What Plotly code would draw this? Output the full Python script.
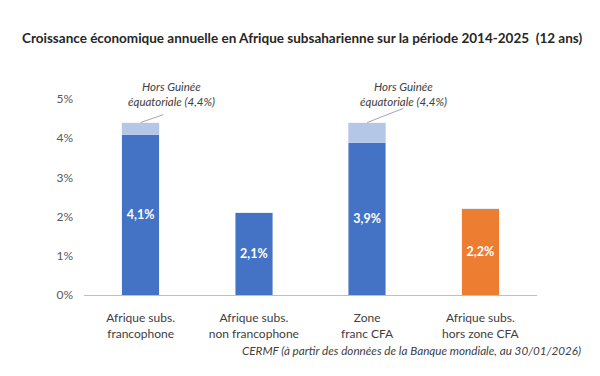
import plotly.graph_objects as go

categories = ["Afrique subs.<br>francophone", "Afrique subs.<br>non francophone", "Zone<br>franc CFA", "Afrique subs.<br>hors zone CFA"]
base_values = [4.1, 2.1, 3.9, 2.2]
extra_values = [0.3, 0, 0.5, 0]  # "Hors Guinée équatoriale" (4,4%)
base_labels = ["4,1%", "2,1%", "3,9%", "2,2%"]
base_colors = ["#4472C4", "#4472C4", "#4472C4", "#ED7D31"]
extra_color = "#B4C7E7"
tick_vals = [0, 1, 2, 3, 4, 5]
tick_text = ["0%", "1%", "2%", "3%", "4%", "5%"]
annot_text = "Hors Guinée<br>équatoriale (4,4%)"
annot_idx = [0, 2]

FONT = "Lato"

fig = go.Figure()
fig.add_trace(go.Bar(
    x=categories, y=base_values, marker_color=base_colors, width=0.33,
    text=base_labels, textposition="inside", insidetextanchor="middle",
    textfont=dict(color="white", size=12.5, family=FONT, weight="bold"),
    hoverinfo="skip",
))
fig.add_trace(go.Bar(
    x=categories, y=extra_values, marker_color=extra_color, width=0.33,
    hoverinfo="skip",
))

# leader lines: drawn on a hidden numeric axis aligned with the category slots
leader_dx = {0: 0.2, 2: 0.32}
leader_dy = {0: 0.2, 2: 0.36}
text_shift = {0: 31, 2: 36}
for i in annot_idx:
    top = base_values[i] + extra_values[i]
    fig.add_trace(go.Scatter(
        x=[i, i + leader_dx[i]], y=[top, top + leader_dy[i]], mode="lines",
        line=dict(color="#A6A6A6", width=1), xaxis="x2", hoverinfo="skip",
    ))
    fig.add_annotation(
        x=categories[i], y=top, xref="x", yref="y", text=annot_text,
        showarrow=False, xshift=text_shift[i], yshift=29, yanchor="middle",
        font=dict(family=FONT, size=11.5, color="#404040", style="italic"),
        align="center",
    )

fig.add_annotation(
    text="Croissance économique annuelle en Afrique subsaharienne sur la période 2014-2025  (12 ans)",
    xref="paper", yref="paper", x=-0.141, y=1.31, xanchor="left", yanchor="middle",
    showarrow=False, font=dict(family=FONT, size=13.5, color="#262626", weight="bold"),
)
fig.add_annotation(
    text="CERMF (à partir des données de la Banque mondiale, au 30/01/2026)",
    xref="paper", yref="paper", x=1.101, y=-0.28, xanchor="right", yanchor="middle",
    showarrow=False, font=dict(family=FONT, size=11.7, color="#404040", style="italic"),
)

fig.update_layout(
    barmode="stack", showlegend=False, width=600, height=376,
    margin=dict(l=84, r=63, t=99, b=81),
    paper_bgcolor="white", plot_bgcolor="white",
    font=dict(family=FONT, color="#404040"),
    xaxis2=dict(overlaying="x", range=[-0.5, len(categories) - 0.5],
                visible=False, showgrid=False, zeroline=False),
)
fig.update_xaxes(
    showline=True, linecolor="#BFBFBF", linewidth=1, ticks="",
    tickfont=dict(size=12, color="#404040", family=FONT), showgrid=False,
    ticklabelstandoff=12, selector=dict(overlaying=None),
)
fig.update_layout(xaxis=dict(showline=True, linecolor="#BFBFBF", linewidth=1, ticks="",
                             tickfont=dict(size=12, color="#404040", family=FONT),
                             showgrid=False, ticklabelstandoff=12))
fig.update_yaxes(
    range=[0, 5], tickvals=tick_vals, ticktext=tick_text, showgrid=False,
    zeroline=False, showline=False, ticklabelstandoff=10,
    tickfont=dict(size=12, color="#595959", family=FONT),
)

fig.write_html("out.html", config={"displayModeBar": False},
               post_script="document.body.style.margin='0';")
